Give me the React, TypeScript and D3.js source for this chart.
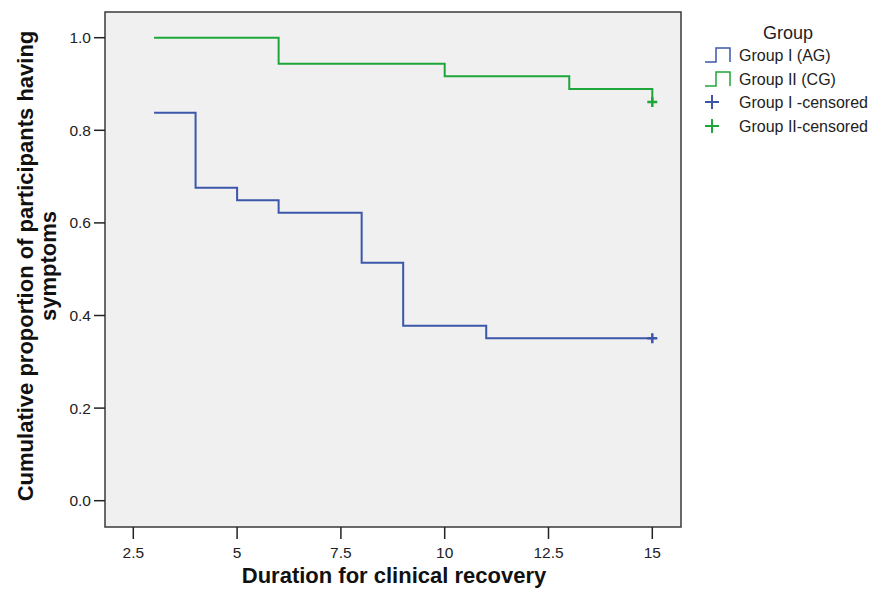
import React, { useEffect, useRef } from 'react';
import * as d3 from 'd3';

// Kaplan-Meier steps
const timesI = [3, 4, 5, 6, 8, 9, 11, 15];
const survI = [0.838, 0.676, 0.649, 0.622, 0.514, 0.378, 0.351, 0.351];
const timesII = [3, 6, 10, 13, 15];
const survII = [1.0, 0.944, 0.917, 0.889, 0.861];
const censorTimes = [15, 15];
const censorSurv = [0.351, 0.861];

const xTicks = [2.5, 5, 7.5, 10, 12.5, 15];
const yTicks = [0, 0.2, 0.4, 0.6, 0.8, 1.0];
const legendLabels = ['Group I (AG)', 'Group II (CG)', 'Group I  -censored', 'Group II-censored'];

const BLUE = '#3c57aa';
const GREEN = '#1fa63a';
const FONT = 'Liberation Sans, Arial, sans-serif';

const W = 875;
const H = 590;
const frame = { left: 105, right: 681, top: 12, bottom: 527 };

export default function App() {
  const ref = useRef<SVGSVGElement>(null);

  useEffect(() => {
    const svg = d3.select(ref.current);
    svg.selectAll('*').remove();

    // scales: 2.5 -> 133.3, 15 -> 652.3; 0 -> 500.7, 1 -> 37.7
    const x = d3.scaleLinear().domain([2.5, 15]).range([133.3, 652.3]);
    const y = d3.scaleLinear().domain([0, 1]).range([500.7, 37.7]);

    // plot background + frame
    svg
      .append('rect')
      .attr('x', frame.left)
      .attr('y', frame.top)
      .attr('width', frame.right - frame.left)
      .attr('height', frame.bottom - frame.top)
      .attr('fill', '#f0f0f0')
      .attr('stroke', '#3a3a3a')
      .attr('stroke-width', 1.5);

    // y axis
    const yAxis = svg.append('g').attr('transform', `translate(${frame.left},0)`);
    yAxis
      .selectAll('line')
      .data(yTicks)
      .enter()
      .append('line')
      .attr('x1', -11)
      .attr('x2', 0)
      .attr('y1', d => y(d))
      .attr('y2', d => y(d))
      .attr('stroke', '#222')
      .attr('stroke-width', 1.5);
    yAxis
      .selectAll('text')
      .data(yTicks)
      .enter()
      .append('text')
      .attr('x', -14)
      .attr('y', d => y(d))
      .attr('dy', '0.35em')
      .attr('text-anchor', 'end')
      .attr('font-family', FONT)
      .attr('font-size', 15.5)
      .attr('fill', '#222')
      .text(d => d3.format('.1f')(d));

    // x axis
    const xAxis = svg.append('g').attr('transform', `translate(0,${frame.bottom})`);
    xAxis
      .selectAll('line')
      .data(xTicks)
      .enter()
      .append('line')
      .attr('x1', d => x(d))
      .attr('x2', d => x(d))
      .attr('y1', 0)
      .attr('y2', 12)
      .attr('stroke', '#222')
      .attr('stroke-width', 1.5);
    xAxis
      .selectAll('text')
      .data(xTicks)
      .enter()
      .append('text')
      .attr('x', d => x(d))
      .attr('y', 31)
      .attr('text-anchor', 'middle')
      .attr('font-family', FONT)
      .attr('font-size', 15.5)
      .attr('fill', '#222')
      .text(d => String(d));

    // axis titles
    svg
      .append('text')
      .attr('x', 394)
      .attr('y', 583)
      .attr('text-anchor', 'middle')
      .attr('font-family', FONT)
      .attr('font-weight', 'bold')
      .attr('font-size', 22)
      .attr('fill', '#111')
      .text('Duration for clinical recovery');

    const yTitle = svg
      .append('text')
      .attr('transform', 'translate(0,266) rotate(-90)')
      .attr('text-anchor', 'middle')
      .attr('font-family', FONT)
      .attr('font-weight', 'bold')
      .attr('font-size', 22)
      .attr('fill', '#111');
    yTitle.append('tspan').attr('x', 0).attr('y', 33).text('Cumulative proportion of participants having');
    yTitle.append('tspan').attr('x', 0).attr('y', 56).text('symptoms');

    // survival curves
    const line = d3
      .line<[number, number]>()
      .x(d => x(d[0]))
      .y(d => y(d[1]))
      .curve(d3.curveStepAfter);

    const series = [
      { t: timesI, s: survI, color: BLUE },
      { t: timesII, s: survII, color: GREEN },
    ];

    series.forEach(g => {
      svg
        .append('path')
        .attr('d', line(g.t.map((t, i) => [t, g.s[i]] as [number, number])))
        .attr('fill', 'none')
        .attr('stroke', g.color)
        .attr('stroke-width', 2);
    });

    // censored marks
    const censorColors = [BLUE, GREEN];
    censorTimes.forEach((t, i) => {
      const cx = x(t);
      const cy = y(censorSurv[i]);
      svg
        .append('path')
        .attr('d', `M${cx - 5},${cy}H${cx + 5}M${cx},${cy - 5}V${cy + 5}`)
        .attr('stroke', censorColors[i])
        .attr('stroke-width', 2.5);
    });

    // legend
    const legend = svg.append('g').attr('font-family', FONT);
    legend
      .append('text')
      .attr('x', 788)
      .attr('y', 39)
      .attr('text-anchor', 'middle')
      .attr('font-size', 18)
      .attr('fill', '#222')
      .text('Group');

    const rowY = [55, 79, 102, 126];
    const legendColors = [BLUE, GREEN, BLUE, GREEN];
    legendLabels.forEach((lab, i) => {
      const cy = rowY[i];
      if (i < 2) {
        legend
          .append('path')
          .attr('d', `M705,${cy + 7}H716V${cy - 7}H730V${cy + 7}`)
          .attr('fill', 'none')
          .attr('stroke', legendColors[i])
          .attr('stroke-width', 1.5);
      } else {
        legend
          .append('path')
          .attr('d', `M705,${cy}H719M712,${cy - 7}V${cy + 7}`)
          .attr('stroke', legendColors[i])
          .attr('stroke-width', 2);
      }
      legend
        .append('text')
        .attr('x', 739)
        .attr('y', cy)
        .attr('dy', '0.35em')
        .attr('font-size', 16)
        .attr('fill', '#222')
        .text(lab);
    });
  }, []);

  return (
    <svg
      ref={ref}
      width={W}
      height={H}
      style={{ position: 'absolute', left: 0, top: 0, background: '#fff' }}
    />
  );
}
